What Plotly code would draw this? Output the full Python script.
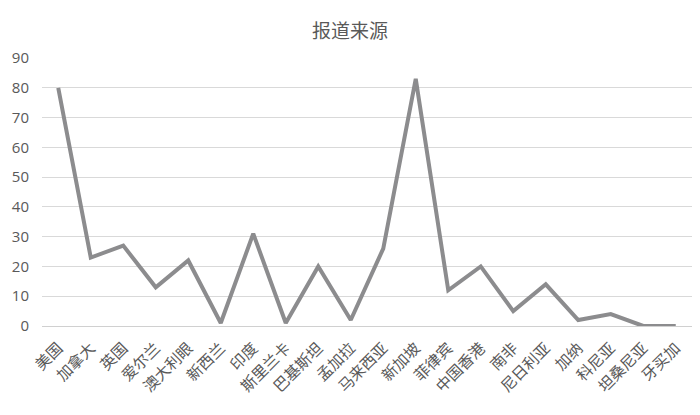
import plotly.graph_objects as go

# 报道来源 — number of reports by country/region
countries = ["美国", "加拿大", "英国", "爱尔兰", "澳大利眼", "新西兰", "印度", "斯里兰卡",
             "巴基斯坦", "孟加拉", "马来西亚", "新加坡", "菲律宾", "中国香港", "南非",
             "尼日利亚", "加纳", "科尼亚", "坦桑尼亚", "牙买加"]
counts = [80, 23, 27, 13, 22, 1, 31, 1, 20, 2, 26, 83, 12, 20, 5, 14, 2, 4, 0, 0]
y_ticks = [0, 10, 20, 30, 40, 50, 60, 70, 80, 90]

cjk = "Noto Sans CJK SC"

fig = go.Figure(
    go.Scatter(
        x=countries,
        y=counts,
        mode="lines",
        line=dict(color="#8c8c8e", width=4),
        hoverinfo="x+y",
    )
)

fig.update_layout(
    width=700,
    height=415,
    margin=dict(l=42, r=8, t=58, b=89),
    paper_bgcolor="white",
    plot_bgcolor="white",
    showlegend=False,
    title=dict(
        text="报道来源",
        x=0.5,
        xanchor="center",
        y=0.925,
        yanchor="middle",
        font=dict(family=cjk, size=19, color="#595959"),
    ),
    xaxis=dict(
        type="category",
        tickangle=-45,
        showgrid=False,
        showline=False,
        ticks="",
        ticklabelstandoff=9,
        tickfont=dict(family=cjk, size=15.5, color="#595959"),
        range=[-0.5, len(countries) - 0.5],
    ),
    yaxis=dict(
        range=[0, 90],
        tickvals=y_ticks,
        showgrid=True,
        gridcolor="#d9d9d9",
        gridwidth=1,
        zeroline=True,
        zerolinecolor="#d0d0d0",
        zerolinewidth=1,
        showline=False,
        ticks="",
        ticklabelstandoff=12,
        tickfont=dict(family="Open Sans, sans-serif", size=15, color="#595959"),
    ),
)

fig.write_html("out.html")
